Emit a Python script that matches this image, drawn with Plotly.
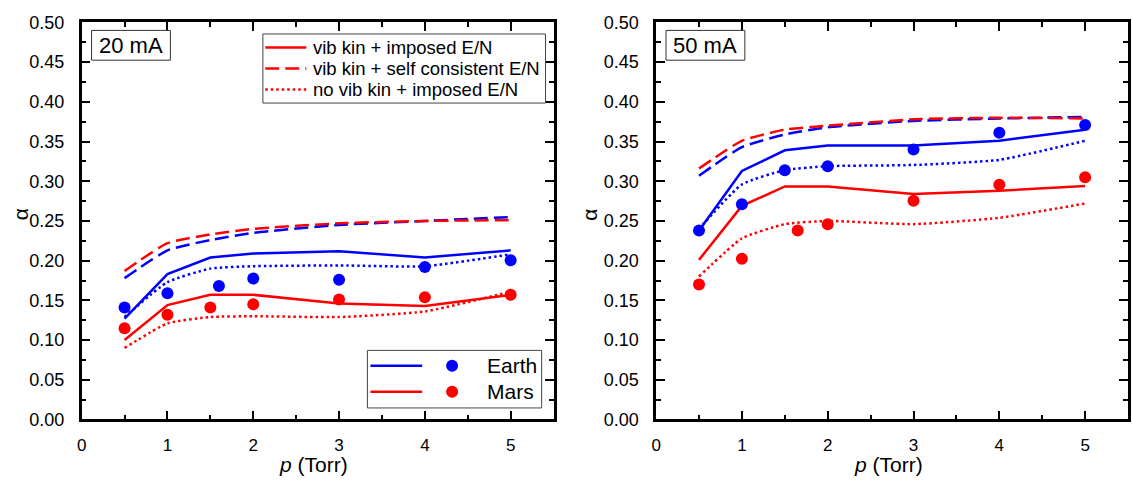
import plotly.graph_objects as go

# ---------------- data ----------------
p = [0.5, 1, 1.5, 2, 3, 4, 5]

# 20 mA
earth_solid_20 = [0.127, 0.183, 0.204, 0.209, 0.212, 0.204, 0.213]
earth_dash_20 = [0.178, 0.213, 0.226, 0.235, 0.245, 0.250, 0.255]
earth_dot_20 = [0.129, 0.173, 0.190, 0.193, 0.194, 0.193, 0.208]
mars_solid_20 = [0.100, 0.144, 0.157, 0.157, 0.146, 0.143, 0.157]
mars_dash_20 = [0.187, 0.222, 0.233, 0.240, 0.247, 0.250, 0.251]
mars_dot_20 = [0.090, 0.121, 0.129, 0.130, 0.129, 0.136, 0.161]
earth_exp_p_20 = [0.5, 1, 1.6, 2, 3, 4, 5]
earth_exp_20 = [0.141, 0.159, 0.168, 0.1775, 0.176, 0.192, 0.2005]
mars_exp_p_20 = [0.5, 1, 1.5, 2, 3, 4, 5]
mars_exp_20 = [0.115, 0.132, 0.141, 0.145, 0.151, 0.154, 0.157]

# 50 mA
earth_solid_50 = [0.238, 0.313, 0.339, 0.345, 0.345, 0.351, 0.365]
earth_dash_50 = [0.307, 0.343, 0.359, 0.368, 0.376, 0.379, 0.381]
earth_dot_50 = [0.240, 0.296, 0.314, 0.319, 0.3205, 0.327, 0.351]
mars_solid_50 = [0.201, 0.269, 0.2935, 0.2935, 0.284, 0.288, 0.294]
mars_dash_50 = [0.316, 0.351, 0.365, 0.370, 0.378, 0.380, 0.379]
mars_dot_50 = [0.180, 0.228, 0.246, 0.250, 0.246, 0.254, 0.272]
earth_exp_p_50 = [0.5, 1, 1.5, 2, 3, 4, 5]
earth_exp_50 = [0.238, 0.271, 0.314, 0.319, 0.340, 0.361, 0.371]
mars_exp_p_50 = [0.5, 1, 1.65, 2, 3, 4, 5]
mars_exp_50 = [0.170, 0.2025, 0.238, 0.246, 0.2755, 0.2955, 0.305]

x_ticks = [0, 1, 2, 3, 4, 5]
panel_labels = ["20 mA", "50 mA"]
legend_model = ["vib kin + imposed E/N", "vib kin + self consistent E/N", "no vib kin + imposed E/N"]
legend_gas = ["Earth", "Mars"]

BLUE = "#0000FF"
RED = "#FF0000"
FONT = "Arial, Liberation Sans, sans-serif"
LW = 2.5
DASH = "14px,6px"
DOT = "2.5px,3px"

fig = go.Figure()

panels = [
    dict(xa="x", ya="y",
         es=earth_solid_20, ed=earth_dash_20, eo=earth_dot_20,
         ms=mars_solid_20, md=mars_dash_20, mo=mars_dot_20,
         ep=earth_exp_p_20, ev=earth_exp_20, mp=mars_exp_p_20, mv=mars_exp_20),
    dict(xa="x2", ya="y2",
         es=earth_solid_50, ed=earth_dash_50, eo=earth_dot_50,
         ms=mars_solid_50, md=mars_dash_50, mo=mars_dot_50,
         ep=earth_exp_p_50, ev=earth_exp_50, mp=mars_exp_p_50, mv=mars_exp_50),
]

for pn in panels:
    for ys, col, dash, shape in [
        (pn["ed"], BLUE, DASH, "spline"),
        (pn["md"], RED, DASH, "spline"),
        (pn["eo"], BLUE, DOT, "spline"),
        (pn["mo"], RED, DOT, "spline"),
        (pn["es"], BLUE, "solid", "linear"),
        (pn["ms"], RED, "solid", "linear"),
    ]:
        fig.add_trace(go.Scatter(x=p, y=ys, mode="lines", xaxis=pn["xa"], yaxis=pn["ya"],
                                 line=dict(color=col, width=LW, dash=dash, shape=shape, smoothing=0.5),
                                 showlegend=False, hoverinfo="skip"))
    fig.add_trace(go.Scatter(x=pn["ep"], y=pn["ev"], mode="markers", xaxis=pn["xa"], yaxis=pn["ya"],
                             marker=dict(color=BLUE, size=12), showlegend=False))
    fig.add_trace(go.Scatter(x=pn["mp"], y=pn["mv"], mode="markers", xaxis=pn["xa"], yaxis=pn["ya"],
                             marker=dict(color=RED, size=12), showlegend=False))

W, H = 1132, 487
left_dom = [77 / W, 551 / W]
right_dom = [654 / W, 1128 / W]
ydom = [60 / H, 474 / H]

axis_common = dict(
    showline=True, linewidth=2.5, linecolor="black", mirror="allticks",
    ticks="inside", ticklen=9, tickwidth=2, tickcolor="black",
    showgrid=False, zeroline=False,
)
xcommon = dict(axis_common, range=[0, 5.5], tickvals=x_ticks, ticktext=[str(v) for v in x_ticks],
               tickfont=dict(family=FONT, size=17, color="black"),
               minor=dict(ticks="inside", ticklen=5, tickwidth=2, tickcolor="black", dtick=0.5, tick0=0),
               ticklabelstandoff=8)
ycommon = dict(axis_common, range=[0, 0.5], dtick=0.05, tick0=0, tickformat=".2f",
               tickfont=dict(family=FONT, size=18, color="black"),
               minor=dict(ticks="inside", ticklen=5, tickwidth=2, tickcolor="black", dtick=0.025, tick0=0),
               ticklabelstandoff=11)

fig.update_layout(
    width=W, height=H,
    margin=dict(l=0, r=0, t=0, b=0),
    paper_bgcolor="white", plot_bgcolor="white",
    showlegend=False,
    xaxis=dict(xcommon, domain=left_dom, anchor="y"),
    yaxis=dict(ycommon, domain=ydom, anchor="x"),
    xaxis2=dict(xcommon, domain=right_dom, anchor="y2"),
    yaxis2=dict(ycommon, domain=ydom, anchor="x2"),
)

shapes = []
annotations = []

for i, (xr, yr) in enumerate([("x domain", "y domain"), ("x2 domain", "y2 domain")]):
    # panel label box
    shapes.append(dict(type="rect", xref=xr, yref=yr, x0=0.021, x1=0.188, y0=0.905, y1=0.980,
                       line=dict(color="#333333", width=1), fillcolor="white"))
    annotations.append(dict(xref=xr, yref=yr, x=0.1045, y=0.943, text=panel_labels[i], showarrow=False,
                            xanchor="center", yanchor="middle", font=dict(family=FONT, size=22, color="black")))

# model legend (left panel)
xr, yr = "x domain", "y domain"
shapes.append(dict(type="rect", xref=xr, yref=yr, x0=0.384, x1=0.983, y0=0.797, y1=0.971,
                   line=dict(color="#444444", width=1), fillcolor="white"))
for txt, yy, dash in zip(legend_model, [0.937, 0.884, 0.831], ["solid", DASH, DOT]):
    shapes.append(dict(type="line", xref=xr, yref=yr, x0=0.389, x1=0.476, y0=yy, y1=yy,
                       line=dict(color=RED, width=LW, dash=dash)))
    annotations.append(dict(xref=xr, yref=yr, x=0.485, y=yy, text=txt, showarrow=False,
                            xanchor="left", yanchor="middle", font=dict(family=FONT, size=18.5, color="black")))

# gas legend (left panel)
shapes.append(dict(type="rect", xref=xr, yref=yr, x0=0.6055, x1=0.9747, y0=0.029, y1=0.174,
                   line=dict(color="#444444", width=1), fillcolor="white"))
for txt, yy, col in zip(legend_gas, [0.1353, 0.070], [BLUE, RED]):
    shapes.append(dict(type="line", xref=xr, yref=yr, x0=0.612, x1=0.7215, y0=yy, y1=yy,
                       line=dict(color=col, width=LW)))
    shapes.append(dict(type="circle", xref=xr, yref=yr, xsizemode="pixel", ysizemode="pixel",
                       xanchor=0.785, yanchor=yy, x0=-6, x1=6, y0=-6, y1=6,
                       line=dict(color=col, width=0), fillcolor=col))
    annotations.append(dict(xref=xr, yref=yr, x=0.854, y=yy, text=txt, showarrow=False,
                            xanchor="left", yanchor="middle", font=dict(family=FONT, size=21, color="black")))

# axis titles
for xa, xt in [(15 / W, 310 / W), (587 / W, 887 / W)]:
    annotations.append(dict(xref="paper", yref="paper", x=xa, y=(H - 213) / H, text="α", textangle=-90,
                            showarrow=False, xanchor="center", yanchor="middle",
                            font=dict(family=FONT, size=21, color="black")))
    annotations.append(dict(xref="paper", yref="paper", x=xt, y=0.0, text="<i>p</i> (Torr)",
                            showarrow=False, xanchor="center", yanchor="bottom", yshift=-1,
                            font=dict(family=FONT, size=21, color="black")))

fig.update_layout(shapes=shapes, annotations=annotations)
fig.write_html("out.html")
